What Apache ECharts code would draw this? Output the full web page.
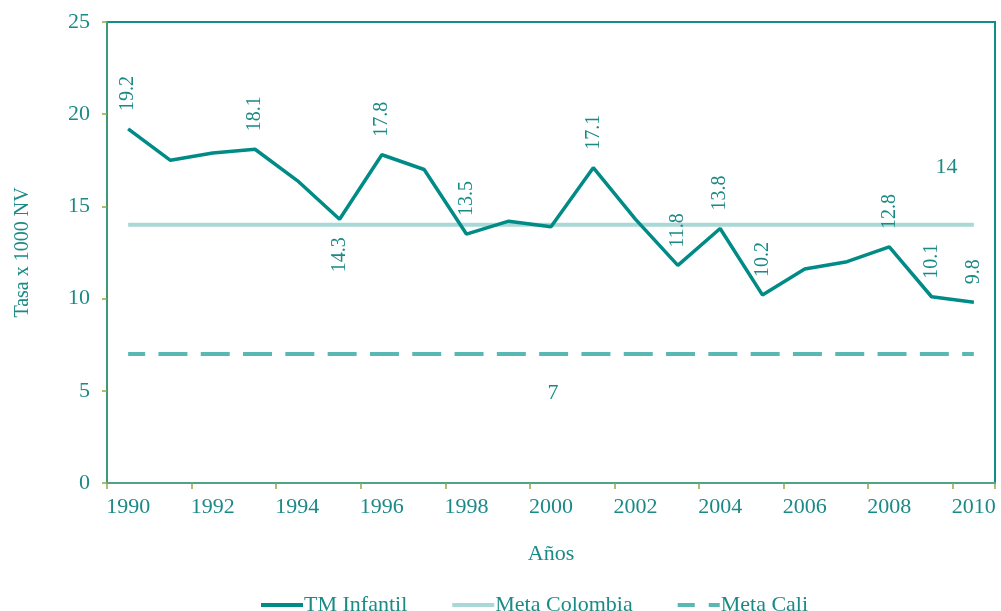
<!DOCTYPE html>
<html>
<head>
<meta charset="utf-8">
<script src="https://cdn.jsdelivr.net/npm/echarts@6/dist/echarts.min.js"></script>
<style>
  html, body { margin: 0; padding: 0; background: #fff; }
  #chart { width: 1001px; height: 611px; }
</style>
</head>
<body>
<div id="chart"></div>
<script>
const years = ['1990', '1991', '1992', '1993', '1994', '1995', '1996', '1997', '1998', '1999', '2000',
  '2001', '2002', '2003', '2004', '2005', '2006', '2007', '2008', '2009', '2010']
const tmInfantil = [19.2, 17.5, 17.9, 18.1, 16.4, 14.3, 17.8, 17.0, 13.5, 14.2, 13.9,
  17.1, 14.3, 11.8, 13.8, 10.2, 11.6, 12.0, 12.8, 10.1, 9.8]
// where each value label goes: 'top', 'bottom' or null (no label)
const tmLabelPos = ['top', null, null, 'top', null, 'bottom', 'top', null, 'top', null, null,
  'top', null, 'top', 'top', 'top', null, null, 'top', 'top', 'top']
const metaColombia = 14
const metaCali = 7
const metaColombiaLabelAt = 19
const metaCaliLabelAt = 10

const teal = '#008b86'
const textColor = '#1b8a86'
const font = '"Liberation Serif", "Times New Roman", serif'

const tmData = tmInfantil.map((v, i) => {
  const pos = tmLabelPos[i]
  if (!pos) return v
  return {
    value: v,
    label: {
      show: true,
      position: pos,
      distance: pos === 'top' ? 16 : 20,
      rotate: 90,
      align: pos === 'top' ? 'left' : 'right',
      verticalAlign: 'middle',
      color: textColor,
      fontFamily: font,
      fontSize: 20,
      offset: [2, 0],
    },
  }
})

const metaLine = (value, labelAt, labelOpts) =>
  years.map((_, i) =>
    i === labelAt
      ? { value, label: { show: true, color: textColor, fontFamily: font, fontSize: 22, ...labelOpts } }
      : value,
  )

const solidIcon = 'path://M0,0h42v4h-42z'
const dashIcon = 'path://M0,0h17v4h-17z M31,0h11v4h-11z'

const chart = echarts.init(document.getElementById('chart'), null, { renderer: 'canvas' })

chart.setOption({
  animation: false,
  textStyle: { fontFamily: font },
  legend: {
    left: 256,
    top: 589,
    itemWidth: 42,
    itemHeight: 5,
    itemGap: 45,
    textStyle: { color: textColor, fontFamily: font, fontSize: 22, padding: [0, 0, 0, -4] },
    data: [
      { name: 'TM Infantil', icon: solidIcon },
      { name: 'Meta Colombia', icon: solidIcon },
      { name: 'Meta Cali', icon: dashIcon },
    ],
  },
  grid: {
    left: 107,
    right: 6,
    top: 22,
    bottom: 128,
    show: true,
    borderColor: '#0f8f88',
    borderWidth: 2,
  },
  xAxis: {
    type: 'category',
    data: years,
    boundaryGap: true,
    name: 'Años',
    nameLocation: 'middle',
    nameGap: 60,
    nameTextStyle: { color: textColor, fontFamily: font, fontSize: 22 },
    axisLine: { lineStyle: { color: '#52a383', width: 2 } },
    axisTick: { show: true, length: 6, lineStyle: { color: '#8fa84e', width: 1.5 } },
    axisLabel: { interval: 1, color: textColor, fontFamily: font, fontSize: 22, margin: 13 },
    splitLine: { show: false },
  },
  yAxis: {
    type: 'value',
    min: 0,
    max: 25,
    interval: 5,
    name: 'Tasa x 1000 NV',
    nameLocation: 'middle',
    nameGap: 74,
    nameTextStyle: { color: textColor, fontFamily: font, fontSize: 20 },
    axisLine: { show: true, lineStyle: { color: '#3d9a78', width: 2 } },
    axisTick: { show: true, length: 5, lineStyle: { color: '#8fa84e', width: 1.5 } },
    axisLabel: { color: textColor, fontFamily: font, fontSize: 22, margin: 17 },
    splitLine: { show: false },
  },
  series: [
    {
      name: 'Meta Colombia',
      type: 'line',
      data: metaLine(metaColombia, metaColombiaLabelAt, { position: 'top', distance: 5, offset: [15, -42] }),
      showSymbol: true,
      symbolSize: 0,
      lineStyle: { color: '#a9d9d6', width: 4 },
      itemStyle: { color: '#a9d9d6' },
      z: 1,
    },
    {
      name: 'Meta Cali',
      type: 'line',
      data: metaLine(metaCali, metaCaliLabelAt, { position: 'bottom', distance: 5, offset: [2, 23] }),
      showSymbol: true,
      symbolSize: 0,
      lineStyle: { color: '#5ab8b4', width: 4, type: [29, 13.3], dashOffset: 12 },
      itemStyle: { color: '#5ab8b4' },
      z: 1,
    },
    {
      name: 'TM Infantil',
      type: 'line',
      data: tmData,
      showSymbol: true,
      symbolSize: 0,
      lineStyle: { color: teal, width: 3.5 },
      itemStyle: { color: teal },
      z: 3,
    },
  ],
})
</script>
</body>
</html>
